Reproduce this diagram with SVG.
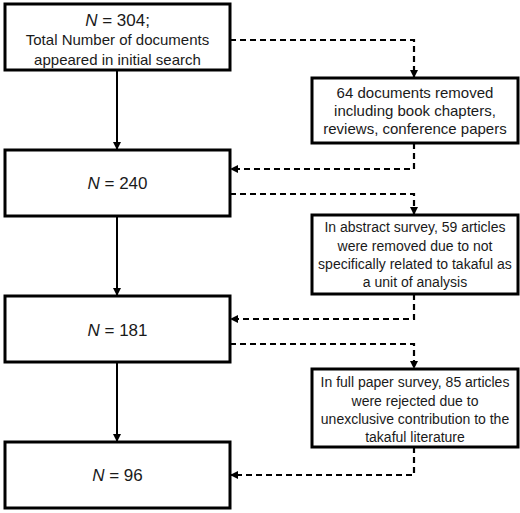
<svg xmlns="http://www.w3.org/2000/svg" width="520" height="513" viewBox="0 0 520 513">
<style>
.box{fill:#fff;stroke:#000;stroke-width:3}
.t{font-family:"Liberation Sans",Arial,sans-serif;font-size:15px;fill:#1a1a1a;text-anchor:middle}
.s{font-family:"Liberation Sans",Arial,sans-serif;font-size:14px;fill:#1a1a1a;text-anchor:middle}
.n{font-family:"Liberation Sans",Arial,sans-serif;font-size:17px;fill:#1a1a1a;text-anchor:middle}
.solid{fill:none;stroke:#000;stroke-width:2}
.dash{fill:none;stroke:#000;stroke-width:2.2;stroke-dasharray:6,4}
</style>
<defs>
<marker id="ah" viewBox="0 0 10 10" refX="10" refY="5" markerWidth="8" markerHeight="8" markerUnits="userSpaceOnUse" orient="auto">
<path d="M0,0 L10,5 L0,10 z" fill="#000"/>
</marker>
</defs>
<g id="connectors">
<line class="solid" x1="117" y1="70" x2="117" y2="150" marker-end="url(#ah)"/>
<line class="solid" x1="117" y1="216" x2="117" y2="296" marker-end="url(#ah)"/>
<line class="solid" x1="117" y1="362" x2="117" y2="442" marker-end="url(#ah)"/>
<polyline class="dash" points="230,40 414,40 414,78" marker-end="url(#ah)"/>
<polyline class="dash" points="414,143 414,169 230,169" marker-end="url(#ah)"/>
<polyline class="dash" points="230,194 414,194 414,215" marker-end="url(#ah)"/>
<polyline class="dash" points="414,294 414,319 230,319" marker-end="url(#ah)"/>
<polyline class="dash" points="230,344 414,344 414,369" marker-end="url(#ah)"/>
<polyline class="dash" points="414,447 414,475 230,475" marker-end="url(#ah)"/>
</g>
<g id="n304">
<rect class="box" x="5" y="4" width="225" height="66"/>
<text class="n" x="117.5" y="26"><tspan font-style="italic">N</tspan> = 304;</text>
<text class="t" x="117.5" y="45">Total Number of documents</text>
<text class="t" x="117.5" y="65">appeared in initial search</text>
</g>
<g id="removed64">
<rect class="box" x="312" y="78" width="206" height="65"/>
<text class="t" x="415" y="98">64 documents removed</text>
<text class="t" x="415" y="116">including book chapters,</text>
<text class="t" x="415" y="134">reviews, conference papers</text>
</g>
<g id="n240">
<rect class="box" x="5" y="150" width="225" height="66"/>
<text class="n" x="117.5" y="189"><tspan font-style="italic">N</tspan> = 240</text>
</g>
<g id="abstract">
<rect class="box" x="312" y="215" width="206" height="79"/>
<text class="s" x="415" y="232">In abstract survey, 59 articles</text>
<text class="s" x="415" y="251">were removed due to not</text>
<text class="s" x="415" y="269">specifically related to takaful as</text>
<text class="s" x="415" y="287">a unit of analysis</text>
</g>
<g id="n181">
<rect class="box" x="5" y="296" width="225" height="66"/>
<text class="n" x="117.5" y="336"><tspan font-style="italic">N</tspan> = 181</text>
</g>
<g id="fullpaper">
<rect class="box" x="312" y="369" width="206" height="78"/>
<text class="s" x="415" y="387">In full paper survey, 85 articles</text>
<text class="s" x="415" y="406">were rejected due to</text>
<text class="s" x="415" y="424">unexclusive contribution to the</text>
<text class="s" x="415" y="442">takaful literature</text>
</g>
<g id="n96">
<rect class="box" x="5" y="442" width="225" height="66"/>
<text class="n" x="117.5" y="481"><tspan font-style="italic">N</tspan> = 96</text>
</g>
</svg>
